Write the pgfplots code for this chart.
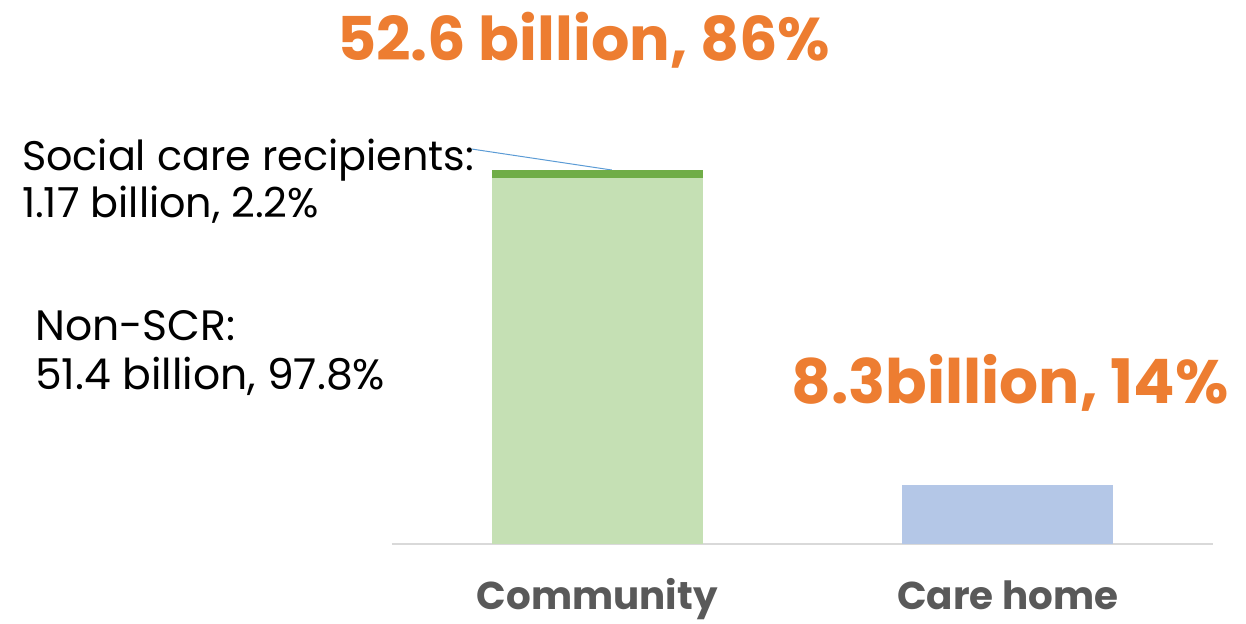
\documentclass[border=0pt]{standalone}
\usepackage{fontspec}
\setmainfont{Poppins}
\usepackage{pgfplots}
\pgfplotsset{compat=1.18}
\usetikzlibrary{calc}

\definecolor{lightgreen}{HTML}{C5E0B4}
\definecolor{darkgreen}{HTML}{70AD47}
\definecolor{lightblue}{HTML}{B4C7E7}
\definecolor{orangelab}{HTML}{ED7D31}
\definecolor{catgray}{HTML}{595959}
\definecolor{axisgray}{HTML}{D9D9D9}
\definecolor{leader}{HTML}{5B9BD5}

\begin{document}
\begin{tikzpicture}
  % 1 px of the reference = 0.6pt
  \begin{axis}[
      x=246.3pt, y=4.266pt,
      xmin=-0.5, xmax=1.5, ymin=0, ymax=60,
      axis x line*=bottom, axis y line=none,
      x axis line style={draw=axisgray, line width=1.2pt, -},
      xtick={0,1}, xticklabels={Community, Care home},
      major tick length=0pt,
      xticklabel style={anchor=base, inner sep=0pt, yshift=-39.6pt,
        font=\fontsize{23.3}{28}\selectfont\bfseries, text=catgray},
      ybar stacked, bar width=126.6pt,
      clip=false,
    ]
    % Non-SCR
    \addplot[fill=lightgreen, draw=none] coordinates {(0,51.43) (1,0)};
    % social care recipients
    \addplot[fill=darkgreen, draw=none] coordinates {(0,1.17) (1,0)};
    % care home
    \addplot[fill=lightblue, draw=none] coordinates {(0,0) (1,8.3)};

    \coordinate (O) at (axis cs:-0.5,0);

    \node[anchor=base, inner sep=0pt, text=orangelab,
      font=\fontsize{36.2}{44}\selectfont\bfseries]
      at (axis cs:-0.033,68.07) {52.6 billion, 86\%};
    \node[anchor=base, inner sep=0pt, text=orangelab,
      font=\fontsize{36.8}{44}\selectfont\bfseries]
      at (axis cs:1.006,19.83) {8.3billion, 14\%};

    \node[anchor=base west, inner sep=0pt, font=\fontsize{24.8}{30}\selectfont]
      at (axis cs:-1.402,52.6) {Social care recipients:};
    \node[anchor=base west, inner sep=0pt, font=\fontsize{24.8}{30}\selectfont]
      at (axis cs:-1.402,45.85) {1.17 billion, 2.2\%};
    \node[anchor=base west, inner sep=0pt, font=\fontsize{25.5}{30}\selectfont]
      at (axis cs:-1.370,28.69) {Non-SCR:};
    \node[anchor=base west, inner sep=0pt, font=\fontsize{25.5}{30}\selectfont]
      at (axis cs:-1.370,21.66) {51.4 billion, 97.8\%};

    \draw[leader, line width=0.6pt] (axis cs:-0.3057,55.55) -- (axis cs:0.0353,52.6);
  \end{axis}
  \pgfresetboundingbox
  \path[use as bounding box] ($(O)+(-235.2pt,-48pt)$) rectangle ($(O)+(512.4pt,326.4pt)$);
\end{tikzpicture}
\end{document}
